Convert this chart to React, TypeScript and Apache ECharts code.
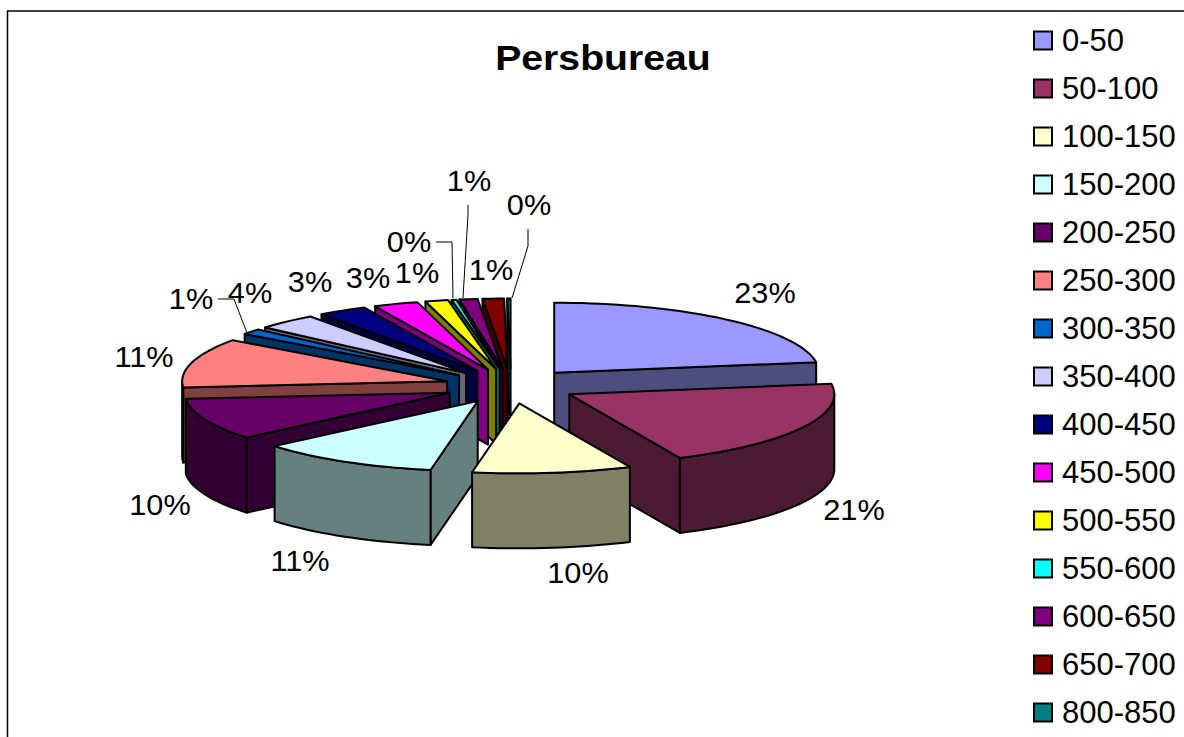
import React, { useEffect, useRef } from "react";
import * as echarts from "echarts";

const titleText = "Persbureau";
const categories = ["0-50","50-100","100-150","150-200","200-250","250-300","300-350","350-400","400-450","450-500","500-550","550-600","600-650","650-700","800-850"];
const shares = [22.6,20.55,9.7,11.05,9.7,11.4,1.3,3.7,3.0,2.7,1.4,0.3,1.1,1.3,0.2];
const colors = ["#9999FF","#993366","#FFFFCC","#CCFFFF","#660066","#FF8080","#0066CC","#CCCCFF","#000080","#FF00FF","#FFFF00","#00FFFF","#800080","#800000","#008080"];

// Layout only (not data)
const CX = 511, CY = 386, RX = 265, RY = 70, DEPTH = 75, EXPLODE = 0.25;
const LABEL_FONT = "Liberation Sans, Arial, sans-serif";
const labelCentres = [[765,293],[854,510],[578,573],[300,561],[160,505],[144,357],[191,299],[250,293],[310,282],[368,278],[417,273],[409,242],[469,181],[491,270],[529,205]];
const leaders: Record<number, number[][]> = {
  6: [[218,299],[234,299],[247,333]],
  11: [[436,242],[452,242],[453,298]],
  12: [[468,205],[468,215],[463,298]],
  14: [[528,229],[528,246],[512,298]],
};

const total = shares.reduce((a, b) => a + b, 0);
const spans: number[][] = [];
{
  let acc = 0;
  shares.forEach((s) => {
    const a0 = (acc / total) * 360;
    acc += s;
    spans.push([a0, (acc / total) * 360]);
  });
}
const rad = (d: number) => (d * Math.PI) / 180;
const darken = (hex: string) => {
  const n = parseInt(hex.slice(1), 16);
  const f = (v: number) => Math.round(v * 0.5);
  return `rgb(${f((n >> 16) & 255)},${f((n >> 8) & 255)},${f(n & 255)})`;
};
const drawOrder = categories
  .map((_, i) => i)
  .sort((a, b) => Math.cos(rad((spans[b][0] + spans[b][1]) / 2)) - Math.cos(rad((spans[a][0] + spans[a][1]) / 2)));

function sliceRenderer(i: number) {
  return (_p: any, api: any) => {
    const value = api.value(0);
    const [a0, a1] = spans[i];
    const mid = (a0 + a1) / 2;
    const ax = CX + EXPLODE * RX * Math.sin(rad(mid));
    const ay = CY - EXPLODE * RY * Math.cos(rad(mid));
    const rim = (d: number) => [ax + RX * Math.sin(rad(d)), ay - RY * Math.cos(rad(d))];
    const arc: number[][] = [];
    const steps = Math.max(1, Math.ceil((a1 - a0) / 2));
    for (let k = 0; k <= steps; k++) arc.push(rim(a0 + ((a1 - a0) * k) / steps));
    const side = darken(colors[i]);
    const stroke = { stroke: "#000", lineWidth: 2, lineJoin: "round" };
    const children: any[] = [];
    const wall = (d: number) => {
      const p = rim(d);
      children.push({
        type: "polygon",
        shape: { points: [[ax, ay], p, [p[0], p[1] + DEPTH], [ax, ay + DEPTH]] },
        style: { fill: side, ...stroke },
      });
    };
    if (Math.sin(rad(a0)) < 0) wall(a0);
    if (Math.sin(rad(a1)) > 0) wall(a1);
    const f0 = Math.max(a0, 90), f1 = Math.min(a1, 270);
    if (f1 > f0) {
      const band: number[][] = [];
      const n = Math.ceil((f1 - f0) / 2);
      for (let k = 0; k <= n; k++) band.push(rim(f0 + ((f1 - f0) * k) / n));
      const lower = band.map((p) => [p[0], p[1] + DEPTH]).reverse();
      children.push({ type: "polygon", shape: { points: band.concat(lower) }, style: { fill: side, ...stroke } });
    }
    children.push({
      type: "polygon",
      shape: { points: [[ax, ay], ...arc] },
      style: { fill: colors[i], ...stroke },
    });
    const [lx, ly] = labelCentres[i];
    children.push({
      type: "text",
      x: lx, y: ly, z2: 100,
      scaleX: 1.06,
      style: {
        text: `${Math.round((value / total) * 100)}%`,
        fill: "#000",
        font: `29px ${LABEL_FONT}`,
        align: "center",
        verticalAlign: "middle",
      },
    });
    if (leaders[i]) {
      children.push({
        type: "polyline",
        shape: { points: leaders[i] },
        z2: 100,
        style: { fill: "none", stroke: "#000", lineWidth: 1 },
      });
    }
    return { type: "group", children };
  };
}

export default function App() {
  const ref = useRef<HTMLDivElement>(null);
  useEffect(() => {
    document.body.style.margin = "0";
    const chart = echarts.init(ref.current!, undefined, { renderer: "svg" });
    chart.setOption({
      animation: false,
      backgroundColor: "#fff",
      legend: {
        orient: "vertical",
        left: 1033,
        top: 25,
        padding: 0,
        data: categories,
        icon: "rect",
        itemWidth: 18,
        itemHeight: 18,
        itemGap: 17,
        textStyle: { fontFamily: LABEL_FONT, fontSize: 31, color: "#000", padding: [0, 0, 0, 5] },
        selectedMode: false,
      },
      graphic: [
        {
          type: "polyline",
          shape: { points: [[1184, 11], [7.5, 11], [7.5, 737]] },
          style: { fill: "none", stroke: "#000", lineWidth: 1.5 },
          z: 0,
        },
        {
          type: "text",
          x: 603, y: 58,
          scaleX: 1.12,
          style: {
            text: titleText,
            font: `bold 35px ${LABEL_FONT}`,
            fill: "#000",
            align: "center",
            verticalAlign: "middle",
          },
        },
      ],
      series: drawOrder.map((i) => ({
        type: "custom",
        name: categories[i],
        coordinateSystem: "none",
        silent: true,
        clip: false,
        itemStyle: { color: colors[i], borderColor: "#000", borderWidth: 1.5 },
        data: [[shares[i]]],
        renderItem: sliceRenderer(i),
      })),
    });
    return () => chart.dispose();
  }, []);
  return <div ref={ref} style={{ position: "fixed", left: 0, top: 0, width: 1184, height: 737 }} />;
}
